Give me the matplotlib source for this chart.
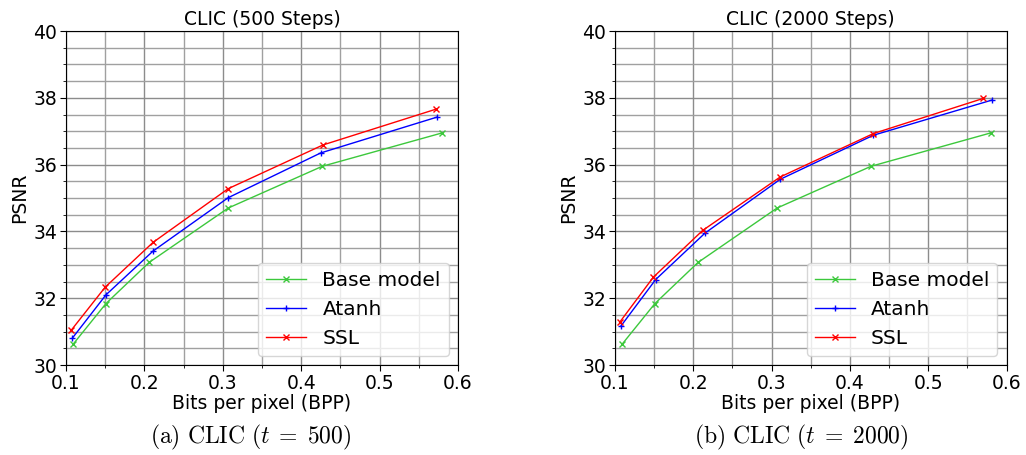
import matplotlib
matplotlib.use("Agg")
import matplotlib.pyplot as plt
from matplotlib.ticker import MultipleLocator

# Rate-distortion results on CLIC (BPP vs PSNR)
base_bpp = [0.109, 0.151, 0.206, 0.307, 0.427, 0.580]
base_psnr = [30.62, 31.84, 33.07, 34.70, 35.95, 36.95]

# 500 steps
atanh500_bpp = [0.108, 0.151, 0.211, 0.307, 0.425, 0.573]
atanh500_psnr = [30.80, 32.10, 33.41, 35.01, 36.35, 37.42]
ssl500_bpp = [0.107, 0.150, 0.211, 0.307, 0.428, 0.572]
ssl500_psnr = [31.05, 32.33, 33.67, 35.28, 36.59, 37.66]

# 2000 steps
atanh2000_bpp = [0.108, 0.152, 0.215, 0.311, 0.430, 0.581]
atanh2000_psnr = [31.18, 32.56, 33.95, 35.56, 36.88, 37.93]
ssl2000_bpp = [0.106, 0.149, 0.212, 0.311, 0.430, 0.570]
ssl2000_psnr = [31.28, 32.63, 34.03, 35.63, 36.93, 37.98]

titles = ["CLIC (500 Steps)", "CLIC (2000 Steps)"]
captions = [r"$\mathrm{(a)\ CLIC\ (}t \;=\; 500\mathrm{)}$",
            r"$\mathrm{(b)\ CLIC\ (}t \;=\; 2000\mathrm{)}$"]
x_ticks = [0.1, 0.2, 0.3, 0.4, 0.5, 0.6]
y_ticks = [30, 32, 34, 36, 38, 40]

plt.rcParams["font.family"] = ["DejaVu Sans"]
plt.rcParams["mathtext.fontset"] = "cm"

fig = plt.figure(figsize=(10.26, 4.55), dpi=100)
axes = [fig.add_axes([0.0643, 0.1978, 0.382, 0.734]),
        fig.add_axes([0.5994, 0.1978, 0.3816, 0.734])]

series = [
    (atanh500_bpp, atanh500_psnr, ssl500_bpp, ssl500_psnr),
    (atanh2000_bpp, atanh2000_psnr, ssl2000_bpp, ssl2000_psnr),
]

for ax, title, (ab, ap, sb, sp) in zip(axes, titles, series):
    ax.plot(base_bpp, base_psnr, color="#3cc83c", marker="x", ms=4,
            lw=1, mew=1, label="Base model")
    ax.plot(ab, ap, color="blue", marker="+", ms=4, lw=1, mew=1,
            label="Atanh")
    ax.plot(sb, sp, color="red", marker="x", ms=4, lw=1, mew=1,
            label="SSL")
    ax.set_xlim(0.1, 0.6)
    ax.set_ylim(30, 40)
    ax.set_xticks(x_ticks)
    ax.set_yticks(y_ticks)
    ax.xaxis.set_minor_locator(MultipleLocator(0.05))
    ax.yaxis.set_minor_locator(MultipleLocator(0.5))
    ax.grid(which="major", color="#8c8c8c", lw=1.0)
    ax.grid(which="minor", color="#a0a0a0", lw=1.0)
    ax.set_axisbelow(True)
    ax.tick_params(axis="both", which="major", labelsize=13.5, length=4,
                   pad=2.5)
    ax.tick_params(axis="both", which="minor", length=2.5)
    ax.set_title(title, fontsize=13.5, pad=4)
    ax.set_xlabel("Bits per pixel (BPP)", fontsize=13.5, labelpad=1)
    ax.set_ylabel("PSNR", fontsize=13.5, labelpad=3)
    ax.legend(loc="lower right", fontsize=14.5, framealpha=0.8,
              borderaxespad=0.45)
    for s in ax.spines.values():
        s.set_color("black")

fig.text(0.2446, 0.038, captions[0], ha="center", va="center", fontsize=17)
fig.text(0.7807, 0.038, captions[1], ha="center", va="center", fontsize=17)

fig.savefig("out.png", dpi=100)
